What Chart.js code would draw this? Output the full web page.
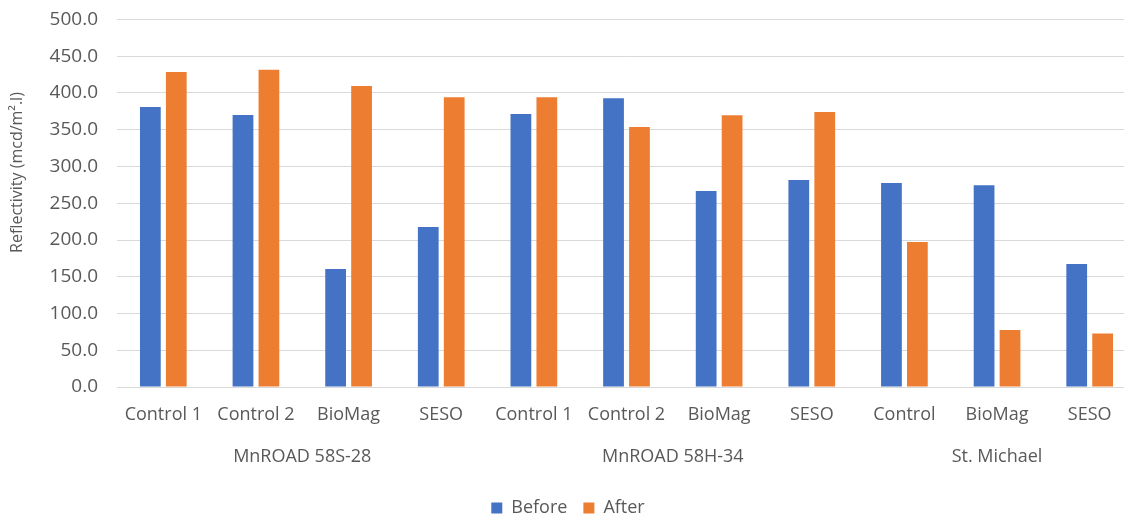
<!DOCTYPE html>
<html>
<head>
<meta charset="utf-8">
<script src="https://cdn.jsdelivr.net/npm/chart.js@4/dist/chart.umd.min.js"></script>
<style>
  html, body { margin: 0; padding: 0; background: #fff; overflow: hidden; }
  #wrap { width: 1150px; height: 518px; position: relative; }
</style>
</head>
<body>
<div id="wrap"><canvas id="chart"></canvas></div>
<script>
// Pavement marking reflectivity by test section
const categories = ['Control 1', 'Control 2', 'BioMag', 'SESO',
                    'Control 1', 'Control 2', 'BioMag', 'SESO',
                    'Control', 'BioMag', 'SESO'];
const groups = [
  { name: 'MnROAD 58S-28', from: 0, to: 3 },
  { name: 'MnROAD 58H-34', from: 4, to: 7 },
  { name: 'St. Michael',   from: 8, to: 10 }
];
const before = [381.0, 370.1, 160.5, 217.8, 371.5, 392.7, 266.5, 281.5, 277.4, 274.6, 167.3];
const after  = [428.7, 431.5, 409.6, 394.1, 394.1, 353.7, 369.6, 374.3, 197.3, 77.7, 72.8];
const yTicks = [0, 50, 100, 150, 200, 250, 300, 350, 400, 450, 500];
const yTitle = 'Reflectivity (mcd/m\u00B2.l)';

const FONT = "'Open Sans', 'Noto Sans', sans-serif";
const TEXT = '#595959';
const GRID = '#d9d9d9';

// Site names under the category labels, and the rotated value-axis title
const extraText = {
  id: 'extraText',
  afterDraw(chart) {
    const ctx = chart.ctx;
    const x = chart.scales.x;
    const area = chart.chartArea;
    ctx.save();
    ctx.fillStyle = TEXT;
    ctx.textAlign = 'center';
    ctx.textBaseline = 'middle';
    ctx.font = '18px ' + FONT;
    const y = area.bottom + 70;
    groups.forEach(g => {
      const cx = (x.getPixelForValue(g.from) + x.getPixelForValue(g.to)) / 2;
      ctx.fillText(g.name, cx, y);
    });
    ctx.font = '16px ' + FONT;
    ctx.translate(17, area.top + 153);
    ctx.rotate(-Math.PI / 2);
    ctx.fillText(yTitle, 0, 0);
    ctx.restore();
  }
};

new Chart(document.getElementById('chart'), {
  type: 'bar',
  data: {
    labels: categories,
    datasets: [
      { label: 'Before', data: before, backgroundColor: '#4472C4' },
      { label: 'After',  data: after,  backgroundColor: '#ED7D31' }
    ]
  },
  options: {
    responsive: true,
    maintainAspectRatio: false,
    animation: false,
    datasets: { bar: { categoryPercentage: 0.56, barPercentage: 0.8 } },
    layout: { padding: { top: 19.5, right: 14, left: 0, bottom: -9 } },
    plugins: {
      tooltip: { enabled: false },
      legend: {
        position: 'bottom',
        labels: {
          color: TEXT,
          font: { family: FONT, size: 18 },
          boxWidth: 11,
          boxHeight: 11,
          padding: 16
        }
      }
    },
    scales: {
      x: {
        grid: { display: false, drawTicks: false },
        border: { display: true, color: GRID, width: 1 },
        ticks: { color: TEXT, font: { family: FONT, size: 18 }, padding: 17, maxRotation: 0, autoSkip: false },
        afterFit(scale) { scale.height = 96; }
      },
      y: {
        min: 0,
        max: 500,
        afterBuildTicks(scale) { scale.ticks = yTicks.map(v => ({ value: v })); },
        grid: { color: GRID, lineWidth: 1, drawTicks: false },
        border: { display: false },
        ticks: {
          color: TEXT,
          font: { family: FONT, size: 19 },
          padding: 19,
          callback: v => Number(v).toFixed(1)
        },
        afterFit(scale) {
          scale.width = 117;
          scale.paddingTop = 0;
          scale.paddingBottom = 0;
        }
      }
    }
  },
  plugins: [extraText]
});
</script>
</body>
</html>
